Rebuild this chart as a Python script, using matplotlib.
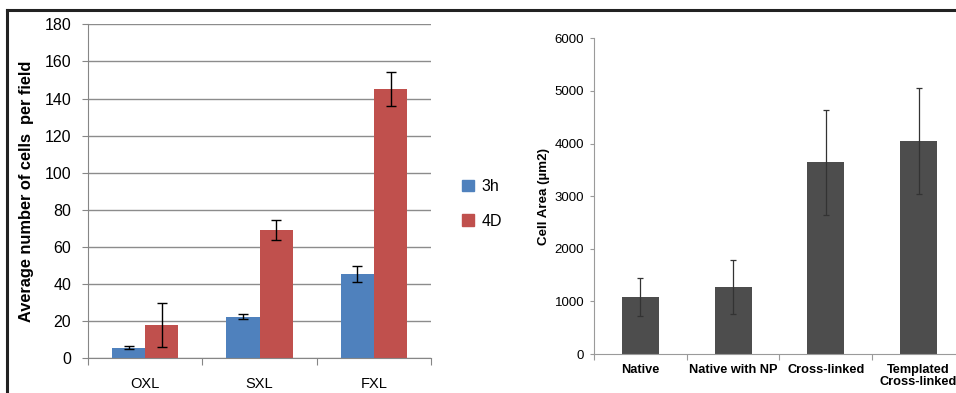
import matplotlib.pyplot as plt
from matplotlib.lines import Line2D
from matplotlib.patches import Patch

# left chart data
groups = ["OXL", "SXL", "FXL"]
vals_3h = [5.4, 22.1, 45.0]
err_3h = [0.7, 1.3, 4.3]
vals_4d = [17.6, 69.0, 145.2]
err_4d = [12.0, 5.6, 9.0]

# right chart data
conditions = ["Native", "Native with NP", "Cross-linked", "Templated\nCross-linked"]
cell_area = [1083, 1274, 3644, 4049]
cell_err = [365, 515, 1000, 1000]

plt.rcParams['font.family'] = ['Liberation Sans', 'DejaVu Sans']

fig = plt.figure(figsize=(9.56, 3.93), dpi=100)

# ---- left chart
ax1 = fig.add_axes([0.092, 0.0898, 0.359, 0.848])
x = list(range(len(groups)))
w = 0.29
ax1.bar([i - w / 2 for i in x], vals_3h, w, color="#4f81bd", zorder=2)
ax1.bar([i + w / 2 for i in x], vals_4d, w, color="#c0504d", zorder=2)
ax1.errorbar([i - w / 2 for i in x], vals_3h, yerr=err_3h, fmt="none",
             ecolor="black", elinewidth=1, capsize=3.6, capthick=1, zorder=3)
ax1.errorbar([i + w / 2 for i in x], vals_4d, yerr=err_4d, fmt="none",
             ecolor="black", elinewidth=1, capsize=3.6, capthick=1, zorder=3)
ax1.set_xlim(-0.5, 2.5)
ax1.set_ylim(0, 180)
ax1.set_yticks(range(0, 181, 20))
ax1.yaxis.grid(True, color="#8c8c8c", lw=1)
ax1.set_axisbelow(True)
for s in ["top", "right"]:
    ax1.spines[s].set_visible(False)
for s in ["left", "bottom"]:
    ax1.spines[s].set_color("#868686")
ax1.set_xticks([-0.5, 0.5, 1.5, 2.5])
ax1.set_xticklabels([])
ax1.set_xticks(x, minor=True)
ax1.set_xticklabels(groups, minor=True, fontsize=10.5)
ax1.tick_params(axis="x", which="major", length=5, color="#868686")
ax1.tick_params(axis="x", which="minor", length=0, pad=14)
ax1.tick_params(axis="y", length=4, color="#868686", labelsize=11.5, pad=8)
ax1.set_ylabel("Average number of cells  per field", fontsize=11.8, fontweight="bold")
ax1.yaxis.set_label_coords(-0.158, 0.5)

fig.legend(handles=[Patch(color="#4f81bd"), Patch(color="#c0504d")],
           labels=["3h", "4D"], loc="center left",
           bbox_to_anchor=(448 / 956, 1 - 204 / 393), frameon=False,
           fontsize=11.5, handlelength=0.7, handleheight=0.7,
           handletextpad=0.5, labelspacing=1.2)

# ---- right chart
ax2 = fig.add_axes([0.6213, 0.0992, 0.388, 0.8033])
xr = list(range(len(conditions)))
ax2.bar(xr, cell_area, 0.4, color="#4d4d4d", zorder=2)
ax2.errorbar(xr, cell_area, yerr=cell_err, fmt="none", ecolor="#333333",
             elinewidth=0.9, capsize=2, capthick=0.9, zorder=3)
ax2.set_xlim(-0.5, 3.5)
ax2.set_ylim(0, 6000)
ax2.set_yticks(range(0, 6001, 1000))
for s in ["top", "right"]:
    ax2.spines[s].set_visible(False)
for s in ["left", "bottom"]:
    ax2.spines[s].set_color("#9a9a9a")
ax2.set_xticks([-0.5, 0.5, 1.5, 2.5, 3.5])
ax2.set_xticklabels([])
ax2.set_xticks(xr, minor=True)
ax2.set_xticklabels(conditions, minor=True, fontsize=9.2, fontweight="bold",
                    linespacing=1.0)
ax2.tick_params(axis="x", which="major", length=4, color="#9a9a9a")
ax2.tick_params(axis="x", which="minor", length=0, pad=7)
ax2.tick_params(axis="y", length=3, color="#9a9a9a", labelsize=9.5, pad=4)
ax2.set_ylabel("Cell Area (\u00b5m2)", fontsize=9.6, fontweight="bold")
ax2.yaxis.set_label_coords(-0.118, 0.5)

# outer frame lines
fig.add_artist(Line2D([7 / 956, 1], [1 - 10 / 393, 1 - 10 / 393],
                      color="#222222", lw=2.2, transform=fig.transFigure))
fig.add_artist(Line2D([7 / 956, 7 / 956], [0, 1 - 10 / 393],
                      color="#222222", lw=2.2, transform=fig.transFigure))

fig.savefig("out.png", dpi=100)
